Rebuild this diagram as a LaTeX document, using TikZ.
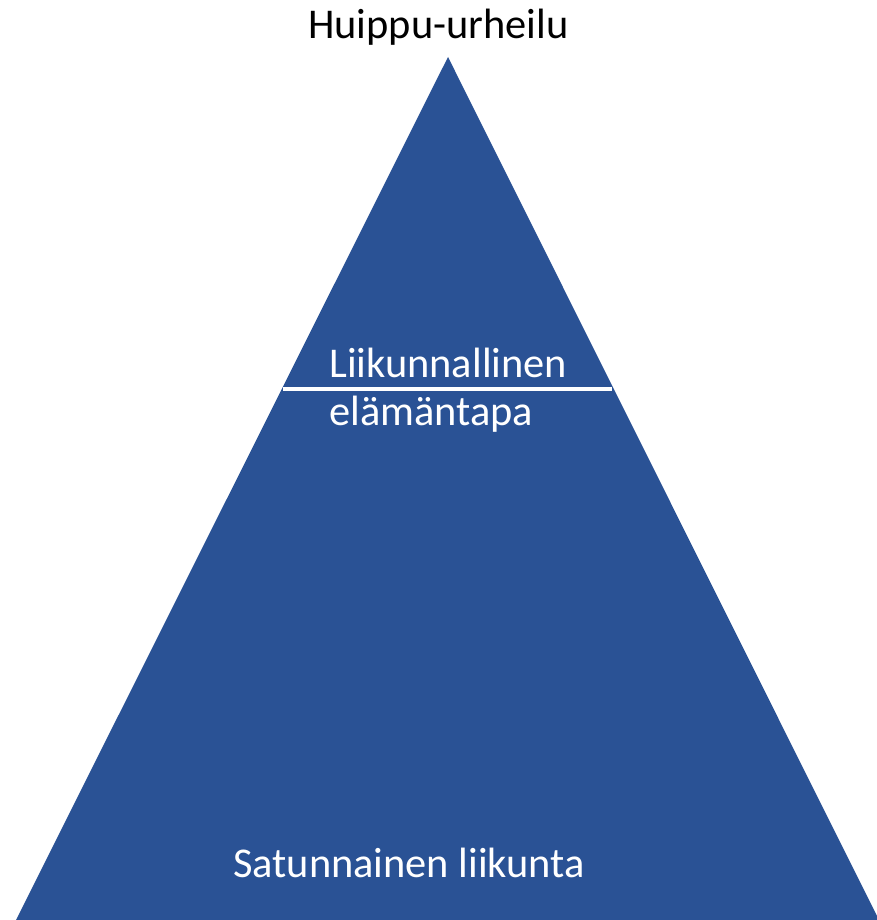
\documentclass[tikz,border=0pt]{standalone}
\usepackage{fontspec}
\setmainfont{Carlito}
\definecolor{pyrblue}{HTML}{2A5295}
\begin{document}
\begin{tikzpicture}[x=1pt,y=-1pt,
  lbl/.style={font=\fontsize{42.4}{50}\selectfont, inner sep=0pt, anchor=base west},
  wlbl/.style={lbl, text=white}]
\useasboundingbox (0,0) rectangle (877,920);
\coordinate (apex) at (448,57);
\coordinate (bl) at (16,920);
\coordinate (br) at (879,920);
\fill[pyrblue] (apex) -- (bl) -- (br) -- cycle;
\coordinate (ll) at (283,389);
\coordinate (lr) at (612,389);
\draw[white, line width=3.5pt] (ll) -- (lr);
\node[lbl] (top) at (308,39) {Huippu-urheilu};
\node[wlbl] (mid1) at (329,377) {Liikunnallinen};
\node[wlbl] (mid2) at (329,425) {elämäntapa};
\node[wlbl] (bot) at (233,877) {Satunnainen liikunta};
\end{tikzpicture}
\end{document}
